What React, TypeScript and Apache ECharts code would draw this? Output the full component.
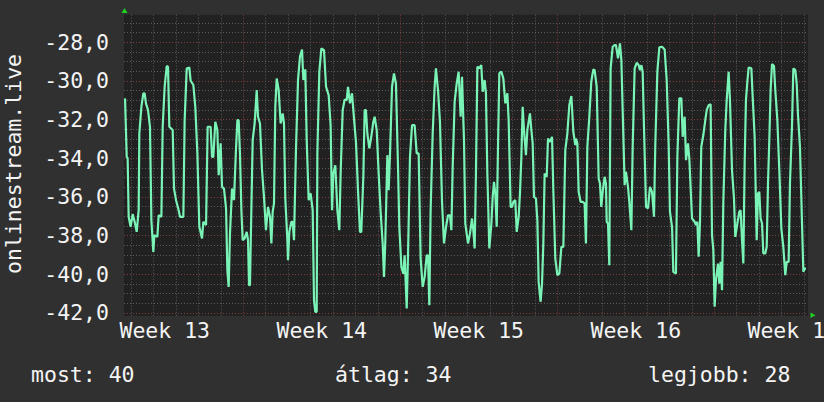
import React, { useEffect, useRef } from "react";
import * as echarts from "echarts";

// time in hours since the start (Monday 00:00) of week 13
const hours = [
  41.5, 43.3, 44.3, 45.4, 47.5, 49.7, 51.8, 54.0, 56.1, 56.8, 59.0, 61.1, 62.5, 63.9, 66.1, 68.2, 69.7, 71.8, 72.9, 76.1,
  77.5, 80.4, 81.8, 83.9, 86.1, 87.5, 88.9, 92.5, 93.9, 96.1, 98.9, 100.3, 103.9, 105.3, 107.5, 110.3, 111.7, 114.6, 116.7, 118.9,
  121.0, 123.9, 125.3, 128.2, 129.9, 133.1, 134.6, 136.0, 138.1, 140.3, 141.7, 143.8, 145.3, 147.4, 149.6, 151.0, 152.4, 153.8, 156.0,
  158.1, 160.2, 161.7, 163.1, 164.5, 166.0, 167.4, 169.5, 171.7, 173.1, 174.2, 175.2, 176.6, 178.1, 180.2, 182.4, 183.8, 185.9, 188.1,
  190.2, 192.3, 194.5, 196.6, 198.1, 199.5, 200.9, 202.3, 203.8, 205.9, 208.0, 210.2, 211.6, 213.0, 215.2, 215.9, 217.3, 219.5, 220.9,
  222.3, 224.4, 226.6, 228.7, 230.9, 232.3, 234.4, 235.9, 238.0, 240.1, 242.3, 243.7, 245.1, 246.6, 247.3, 249.4, 251.6, 254.4, 256.6,
  259.4, 261.5, 263.0, 264.4, 266.5, 268.7, 270.8, 272.2, 274.4, 276.5, 278.7,
  280.1, 282.2, 284.4, 286.5, 288.6, 290.8, 292.9, 294.3, 296.5, 297.9, 299.3, 300.8, 302.9, 305.0, 307.2, 308.6, 310.8, 312.9, 315.0,
  317.2, 318.6, 320.0, 322.2, 323.6, 325.0, 327.2, 329.3, 331.4, 333.6, 335.0, 337.2, 339.3, 340.7, 342.9, 344.3, 346.4, 348.6, 351.4,
  353.6, 355.7, 357.8, 360.0, 362.1, 364.3, 365.7, 367.1, 368.5, 370.7, 372.8, 374.2, 376.4, 378.5, 380.7, 382.8, 385.0, 387.1, 389.2,
  390.7, 392.1, 394.2, 396.4, 398.5, 400.6,
  402.1, 404.2, 405.6, 408.5, 410.6, 412.8, 414.2, 415.6, 417.0, 418.5, 420.6, 422.7, 424.2, 426.3, 427.7, 429.2, 431.3, 433.5, 434.9,
  436.3, 437.7, 439.2, 440.6, 442.0, 444.2, 446.3, 448.4, 450.6, 452.0, 454.1, 455.6, 457.0, 459.1, 460.6, 462.7, 464.1, 465.6, 467.0,
  468.4, 470.5, 472.0, 474.8, 476.3, 477.7, 479.1, 481.2, 482.7, 484.1, 486.2, 487.7, 489.1, 490.5, 492.7, 494.1, 496.2, 498.4, 499.8,
  501.9, 504.1, 506.2, 508.4, 510.5, 512.6, 514.8, 516.9, 519.1, 521.2, 523.3,
  524.0, 525.5, 526.9, 529.0, 531.2, 533.3, 534.7, 536.2, 538.3, 540.4, 542.6, 544.0, 546.2, 548.3, 549.7, 551.1, 552.6, 554.7, 556.1,
  556.9, 558.3, 559.7, 561.1, 563.3, 565.4, 566.8, 569.0, 571.1, 572.6, 574.0, 576.1, 577.5, 579.7, 581.1, 583.3, 584.7, 586.8, 589.0,
  591.1, 592.5, 594.0, 595.4, 596.8, 599.0, 601.1, 603.2, 605.4, 607.5, 608.9, 611.1, 613.2, 616.1, 618.9, 621.1, 623.2, 624.6, 626.8,
  628.2, 631.0, 632.5, 634.6, 636.8, 638.2, 640.3, 641.8, 643.9, 645.3,
  648.2, 651.0, 652.4, 653.9, 655.3, 656.7, 658.1, 660.3, 662.4, 663.9, 666.0, 668.1, 669.6, 671.0, 672.4, 673.8, 676.0, 677.4, 678.8,
  680.3, 681.7, 683.8, 685.3, 687.4, 688.8, 691.0, 693.1, 694.5, 696.7, 698.8, 700.2, 701.7, 703.1, 704.5, 705.9, 707.4, 708.8, 711.7,
  713.1, 715.2, 717.4, 718.8, 720.2, 721.6, 723.1, 724.5, 726.6, 728.1, 729.5, 730.9, 732.3, 733.8, 735.9, 737.3, 739.5, 741.6, 743.8,
  745.9, 748.0, 749.5, 751.6, 753.0, 755.2, 756.6, 758.7, 760.2, 761.6, 763.7, 765.9, 767.3, 768.7, 770.2,
];

const values = [
  -30.9, -33.93, -34.01, -37.03, -37.55, -36.89, -37.29, -37.81, -36.69, -32.72, -31.34, -30.64, -30.64, -31.16, -31.51, -32.37, -37.21, -38.85, -37.98, -38.07,
  -36.95, -37.03, -32.37, -30.3, -29.23, -29.26, -32.37, -32.54, -35.57, -36.17, -36.69, -37.03, -37.03, -32.03, -29.35, -29.3, -29.99, -30.21, -31.34, -33.75,
  -37.55, -38.15, -37.29, -37.46, -32.37, -32.37, -33.93, -33.93, -32.11, -32.54, -34.88, -33.23, -35.48, -35.57, -36.6, -39.79, -40.66, -37.9, -35.57,
  -36.17, -33.58, -32.03, -32.03, -33.75, -36.69, -38.24, -38.15, -37.81, -38.24, -40.57, -40.57, -36.86, -33.06, -32.2, -30.47, -31.85, -32.2, -34.62,
  -36.0, -37.72, -36.52, -37.03, -38.41, -36.77, -36.34, -31.34, -29.87, -30.47, -32.2, -31.68, -32.2, -36.08, -38.24, -39.28, -37.81, -37.29, -37.29,
  -38.24, -33.58, -29.95, -28.74, -28.37, -29.95, -29.4, -33.06, -36.17, -35.82, -36.69, -41.35, -41.95, -41.95, -33.75, -29.52, -28.31, -28.4, -30.3,
  -30.73, -32.29, -36.69, -34.79, -34.36, -36.69, -37.72, -34.79, -31.51, -30.96, -30.99,
  -30.3, -31.16, -30.64, -31.94, -33.15, -35.65, -37.81, -37.81, -34.96, -31.51, -31.51, -32.72, -33.49, -32.89, -32.11, -31.85, -32.54, -34.79, -36.77,
  -38.41, -40.14, -38.33, -33.84, -35.65, -33.84, -30.3, -29.61, -30.13, -34.44, -37.55, -39.62, -39.97, -39.02, -41.78, -39.02, -33.93, -32.29, -32.29,
  -33.75, -33.75, -39.19, -40.66, -40.14, -39.02, -39.02, -41.61, -36.69, -32.72, -30.3, -29.35, -30.47, -32.11, -36.26, -38.41, -37.55, -36.95, -36.95,
  -37.72, -34.44, -31.08, -30.13, -29.52, -31.85,
  -29.78, -33.06, -37.38, -38.41, -37.9, -37.12, -37.72, -38.67, -34.79, -29.26, -29.35, -29.18, -30.56, -29.95, -30.64, -34.79, -38.67, -37.38, -36.0,
  -35.22, -35.82, -37.55, -33.41, -29.61, -29.52, -29.87, -31.16, -30.64, -32.03, -36.52, -36.52, -36.26, -36.17, -37.81, -37.03, -35.82, -33.93, -31.34,
  -32.54, -33.84, -32.54, -31.68, -32.54, -33.23, -36.0, -36.08, -37.21, -40.4, -41.43, -40.49, -38.41, -34.79, -34.96, -32.98, -33.15, -32.89, -35.65,
  -39.19, -40.05, -39.97, -38.59, -38.59, -33.58, -32.72, -31.25, -30.78, -32.63, -33.32,
  -32.98, -33.23, -35.74, -36.26, -36.26, -36.34, -38.41, -33.41, -31.85, -30.04, -29.4, -29.44, -30.3, -35.05, -35.31, -36.52, -35.74, -34.96, -35.31,
  -37.29, -37.38, -39.54, -29.35, -28.23, -28.14, -28.14, -28.83, -28.05, -28.92, -31.51, -35.39, -34.7, -35.48, -36.26, -37.72, -33.41, -29.35, -29.06,
  -29.18, -29.44, -29.18, -29.52, -32.37, -36.52, -36.6, -35.48, -35.74, -37.03, -33.32, -29.52, -28.26, -28.23, -28.37, -29.95, -33.32, -36.77, -37.55,
  -39.88, -39.97, -33.93, -30.9, -30.9, -32.89, -31.85, -34.1, -33.23, -34.01,
  -37.12, -37.29, -37.46, -37.29, -39.1, -37.38, -33.41, -32.8, -32.03, -31.51, -31.25, -31.2, -37.98, -38.76, -41.69, -40.31, -39.45, -40.49, -39.36,
  -40.83, -36.26, -32.54, -30.99, -29.52, -30.99, -34.62, -36.08, -38.07, -37.38, -36.77, -36.69, -38.24, -39.45, -34.27, -30.99, -30.04, -29.3, -29.35,
  -30.82, -32.89, -38.24, -35.82, -35.74, -37.12, -37.38, -38.93, -38.93, -38.59, -35.31, -33.06, -30.47, -29.12, -29.23, -30.47, -32.03, -34.62, -37.64,
  -38.59, -40.05, -39.36, -39.36, -35.31, -32.29, -29.35, -29.44, -30.13, -31.77, -33.41, -37.38, -39.88, -39.71, -39.71,
];

const yMajorTicks = [-42, -40, -38, -36, -34, -32, -30, -28];
const yMinorTicks = [
  -41.5, -41, -40.5, -39.5, -39, -38.5, -37.5, -37, -36.5, -35.5, -35, -34.5, -33.5, -33, -32.5,
  -31.5, -31, -30.5, -29.5, -29, -28.5, -27.5, -27,
];
const xDayTicks = [
  48, 72, 96, 120, 144, 192, 216, 240, 264, 288, 312, 360, 384, 408, 432, 456, 480,
  528, 552, 576, 600, 624, 648, 696, 720, 744, 768,
];
const xWeekTicks = [168, 336, 504, 672];
const weekLabelHours = [84, 252, 420, 588, 756];
const weekLabels = ["Week 13", "Week 14", "Week 15", "Week 16", "Week 17"];
const yAxisTitle = "onlinestream.live";
const legendNames = ["most", "átlag", "legjobb"];
const legendValues = [40, 34, 28];

const X_MIN = 40.4;
const X_MAX = 772.3;
const Y_MIN = -42.15;
const Y_MAX = -26.57;

const FONT = '"DejaVu Sans Mono", monospace';
const FS = 21.5;
const TEXT = "#f4f4f4";
const MINOR = "#5c5c5c";
const MAJOR = "#823c3c";

export default function App() {
  const ref = useRef<HTMLDivElement>(null);
  useEffect(() => {
    if (!ref.current) return;
    const chart = echarts.init(ref.current, null, { renderer: "svg" });
    const data = hours.map((h, i) => [h, values[i]]);
    const legendX = [31, 335, 648];
    const option: any = {
      animation: false,
      backgroundColor: "#303030",
      grid: {
        left: 124,
        right: 16,
        top: 14.7,
        bottom: 86.3,
        show: true,
        backgroundColor: "#212121",
        borderWidth: 0,
        containLabel: false,
        outerBoundsMode: "none",
      },
      xAxis: [
        {
          type: "value",
          min: X_MIN,
          max: X_MAX,
          axisLine: { show: false },
          axisTick: { show: false, customValues: xDayTicks },
          splitLine: { show: true, lineStyle: { color: MINOR, width: 1, type: [1, 2] } },
          axisLabel: {
            customValues: weekLabelHours,
            formatter: (v: number) => weekLabels[weekLabelHours.indexOf(v)] ?? "",
            color: TEXT,
            fontFamily: FONT,
            fontSize: FS,
            margin: 15,
            verticalAlign: "middle",
            hideOverlap: false,
          },
        },
        {
          type: "value",
          min: X_MIN,
          max: X_MAX,
          position: "bottom",
          axisLine: { show: false },
          axisTick: { show: false, customValues: xWeekTicks },
          axisLabel: { show: false },
          splitLine: { show: true, lineStyle: { color: MAJOR, width: 1, type: [1, 2] } },
        },
      ],
      yAxis: [
        {
          type: "value",
          min: Y_MIN,
          max: Y_MAX,
          position: "left",
          axisLine: { show: false },
          axisTick: { show: false, customValues: yMinorTicks },
          splitLine: { show: true, lineStyle: { color: MINOR, width: 1, type: [1, 2] } },
          axisLabel: {
            customValues: yMajorTicks,
            formatter: (v: number) => v.toFixed(1).replace(".", ","),
            color: TEXT,
            fontFamily: FONT,
            fontSize: FS,
            margin: 15,
          },
        },
        {
          type: "value",
          min: Y_MIN,
          max: Y_MAX,
          position: "left",
          axisLine: { show: false },
          axisTick: { show: false, customValues: yMajorTicks },
          axisLabel: { show: false },
          splitLine: { show: true, lineStyle: { color: MAJOR, width: 1, type: [1, 2] } },
        },
      ],
      series: [
        {
          type: "line",
          xAxisIndex: 0,
          yAxisIndex: 0,
          data,
          symbol: "none",
          showSymbol: false,
          z: 10,
          lineStyle: { color: "#7af3b6", width: 2.2 },
          silent: true,
        },
      ],
      graphic: [
        {
          type: "text",
          x: 13,
          y: 164,
          rotation: Math.PI / 2,
          style: {
            text: yAxisTitle,
            fill: TEXT,
            font: `${FS}px ${FONT}`,
            align: "center",
            verticalAlign: "middle",
          },
        },
        ...legendNames.map((n, i) => ({
          type: "text",
          x: legendX[i],
          y: 374,
          style: {
            text: `${n}: ${legendValues[i]}`,
            fill: TEXT,
            font: `${FS}px ${FONT}`,
            align: "left",
            verticalAlign: "middle",
          },
        })),
        {
          type: "polygon",
          shape: { points: [[121.5, 13], [127.5, 13], [124.5, 8]] },
          style: { fill: "#1fd21f" },
        },
        {
          type: "polygon",
          shape: { points: [[810.5, 312.5], [810.5, 318], [815.5, 315.2]] },
          style: { fill: "#1fd21f" },
        },
      ],
    };
    chart.setOption(option);
    return () => chart.dispose();
  }, []);
  return (
    <div
      ref={ref}
      style={{ position: "fixed", left: 0, top: 0, width: 824, height: 402 }}
    />
  );
}
